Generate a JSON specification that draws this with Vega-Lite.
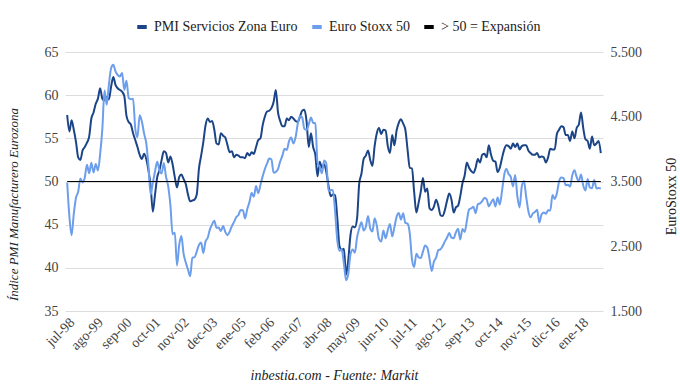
{
"$schema":"https://vega.github.io/schema/vega-lite/v6.json",
"width":538,"height":259,
"autosize":"none",
"padding":{"left":65,"top":52,"right":77,"bottom":75},
"background":"white",
"config":{"view":{"stroke":null},"font":"Liberation Serif"},
"data":{"values":[
{"mes":"jul-98","pmi":57.7,"sx":3480},{"mes":"ago-98","pmi":55.8,"sx":2960},{"mes":"sep-98","pmi":57.1,"sx":2670},{"mes":"oct-98","pmi":56.0,"sx":3000},{"mes":"nov-98","pmi":54.6,"sx":3250},{"mes":"dic-98","pmi":52.8,"sx":3342},
{"mes":"ene-99","pmi":52.5,"sx":3547},{"mes":"feb-99","pmi":53.6,"sx":3485},{"mes":"mar-99","pmi":54.0,"sx":3559},{"mes":"abr-99","pmi":54.5,"sx":3757},{"mes":"may-99","pmi":55.2,"sx":3629},{"mes":"jun-99","pmi":57.3,"sx":3788},{"mes":"jul-99","pmi":58.0,"sx":3638},{"mes":"ago-99","pmi":59.0,"sx":3769},{"mes":"sep-99","pmi":59.6,"sx":3669},{"mes":"oct-99","pmi":60.8,"sx":3922},{"mes":"nov-99","pmi":59.6,"sx":4312},{"mes":"dic-99","pmi":59.4,"sx":4904},
{"mes":"ene-00","pmi":59.8,"sx":4684},{"mes":"feb-00","pmi":59.5,"sx":5000},{"mes":"mar-00","pmi":61.0,"sx":5249},{"mes":"abr-00","pmi":62.1,"sx":5303},{"mes":"may-00","pmi":61.2,"sx":5200},{"mes":"jun-00","pmi":60.8,"sx":5145},{"mes":"jul-00","pmi":60.6,"sx":5122},{"mes":"ago-00","pmi":60.4,"sx":5175},{"mes":"sep-00","pmi":59.9,"sx":4915},{"mes":"oct-00","pmi":57.6,"sx":5057},{"mes":"nov-00","pmi":56.9,"sx":4790},{"mes":"dic-00","pmi":56.6,"sx":4772},
{"mes":"ene-01","pmi":55.6,"sx":4779},{"mes":"feb-01","pmi":54.8,"sx":4318},{"mes":"mar-01","pmi":54.0,"sx":4185},{"mes":"abr-01","pmi":53.1,"sx":4525},{"mes":"may-01","pmi":52.6,"sx":4426},{"mes":"jun-01","pmi":53.2,"sx":4243},{"mes":"jul-01","pmi":52.6,"sx":4091},{"mes":"ago-01","pmi":51.3,"sx":3744},{"mes":"sep-01","pmi":49.5,"sx":3297},{"mes":"oct-01","pmi":46.5,"sx":3479},{"mes":"nov-01","pmi":48.5,"sx":3658},{"mes":"dic-01","pmi":50.5,"sx":3806},
{"mes":"ene-02","pmi":51.3,"sx":3670},{"mes":"feb-02","pmi":52.5,"sx":3625},{"mes":"mar-02","pmi":53.5,"sx":3785},{"mes":"abr-02","pmi":53.3,"sx":3573},{"mes":"may-02","pmi":52.2,"sx":3426},{"mes":"jun-02","pmi":52.9,"sx":3133},{"mes":"jul-02","pmi":52.0,"sx":2686},{"mes":"ago-02","pmi":50.5,"sx":2710},{"mes":"sep-02","pmi":49.3,"sx":2204},{"mes":"oct-02","pmi":50.5,"sx":2518},{"mes":"nov-02","pmi":50.8,"sx":2657},{"mes":"dic-02","pmi":50.3,"sx":2386},
{"mes":"ene-03","pmi":49.7,"sx":2249},{"mes":"feb-03","pmi":48.5,"sx":2141},{"mes":"mar-03","pmi":47.7,"sx":2036},{"mes":"abr-03","pmi":47.8,"sx":2324},{"mes":"may-03","pmi":47.9,"sx":2331},{"mes":"jun-03","pmi":48.5,"sx":2419},{"mes":"jul-03","pmi":51.5,"sx":2519},{"mes":"ago-03","pmi":53.0,"sx":2556},{"mes":"sep-03","pmi":54.6,"sx":2395},{"mes":"oct-03","pmi":56.5,"sx":2575},{"mes":"nov-03","pmi":57.3,"sx":2631},{"mes":"dec-03","pmi":56.9,"sx":2761},
{"mes":"ene-04","pmi":57.0,"sx":2839},{"mes":"feb-04","pmi":56.0,"sx":2894},{"mes":"mar-04","pmi":54.4,"sx":2787},{"mes":"abr-04","pmi":54.3,"sx":2788},{"mes":"may-04","pmi":55.6,"sx":2736},{"mes":"jun-04","pmi":55.3,"sx":2811},{"mes":"jul-04","pmi":55.1,"sx":2720},{"mes":"ago-04","pmi":54.2,"sx":2671},{"mes":"sep-04","pmi":53.4,"sx":2726},{"mes":"oct-04","pmi":53.5,"sx":2811},{"mes":"nov-04","pmi":52.8,"sx":2876},{"mes":"dic-04","pmi":53.1,"sx":2951},
{"mes":"ene-05","pmi":53.0,"sx":2984},{"mes":"feb-05","pmi":52.8,"sx":3058},{"mes":"mar-05","pmi":52.8,"sx":3056},{"mes":"abr-05","pmi":52.7,"sx":2930},{"mes":"may-05","pmi":53.3,"sx":3076},{"mes":"jun-05","pmi":53.0,"sx":3182},{"mes":"jul-05","pmi":53.4,"sx":3326},{"mes":"ago-05","pmi":53.2,"sx":3263},{"mes":"sep-05","pmi":54.0,"sx":3429},{"mes":"oct-05","pmi":54.8,"sx":3320},{"mes":"nov-05","pmi":55.0,"sx":3447},{"mes":"dic-05","pmi":56.5,"sx":3579},
{"mes":"ene-06","pmi":57.5,"sx":3692},{"mes":"feb-06","pmi":58.1,"sx":3775},{"mes":"mar-06","pmi":58.2,"sx":3854},{"mes":"abr-06","pmi":58.5,"sx":3839},{"mes":"may-06","pmi":59.2,"sx":3637},{"mes":"jun-06","pmi":60.6,"sx":3649},{"mes":"jul-06","pmi":58.0,"sx":3692},{"mes":"ago-06","pmi":57.0,"sx":3809},{"mes":"sep-06","pmi":56.4,"sx":3899},{"mes":"oct-06","pmi":56.4,"sx":4004},{"mes":"nov-06","pmi":57.3,"sx":3987},{"mes":"dic-06","pmi":57.1,"sx":4120},
{"mes":"ene-07","pmi":57.5,"sx":4179},{"mes":"feb-07","pmi":57.3,"sx":4088},{"mes":"mar-07","pmi":57.0,"sx":4182},{"mes":"abr-07","pmi":56.9,"sx":4392},{"mes":"may-07","pmi":57.5,"sx":4512},{"mes":"jun-07","pmi":58.2,"sx":4489},{"mes":"jul-07","pmi":58.3,"sx":4316},{"mes":"ago-07","pmi":57.0,"sx":4294},{"mes":"sep-07","pmi":54.0,"sx":4382},{"mes":"oct-07","pmi":55.6,"sx":4489},{"mes":"nov-07","pmi":54.0,"sx":4407},{"mes":"dic-07","pmi":53.1,"sx":4400},
{"mes":"ene-08","pmi":50.6,"sx":3792},{"mes":"feb-08","pmi":52.3,"sx":3724},{"mes":"mar-08","pmi":51.6,"sx":3628},{"mes":"abr-08","pmi":52.0,"sx":3826},{"mes":"may-08","pmi":51.1,"sx":3778},{"mes":"jun-08","pmi":49.5,"sx":3353},{"mes":"jul-08","pmi":48.3,"sx":3367},{"mes":"ago-08","pmi":48.5,"sx":3365},{"mes":"sep-08","pmi":48.4,"sx":3038},{"mes":"oct-08","pmi":45.8,"sx":2592},{"mes":"nov-08","pmi":42.5,"sx":2430},{"mes":"dic-08","pmi":42.1,"sx":2448},
{"mes":"ene-09","pmi":42.2,"sx":2237},{"mes":"feb-09","pmi":39.2,"sx":1976},{"mes":"mar-09","pmi":40.9,"sx":2071},{"mes":"abr-09","pmi":43.8,"sx":2375},{"mes":"may-09","pmi":44.8,"sx":2451},{"mes":"jun-09","pmi":44.7,"sx":2401},{"mes":"jul-09","pmi":45.7,"sx":2638},{"mes":"ago-09","pmi":49.8,"sx":2775},{"mes":"sep-09","pmi":50.9,"sx":2872},{"mes":"oct-09","pmi":52.6,"sx":2743},{"mes":"nov-09","pmi":53.0,"sx":2800},{"mes":"dic-09","pmi":53.6,"sx":2966},
{"mes":"ene-10","pmi":52.5,"sx":2776},{"mes":"feb-10","pmi":51.8,"sx":2728},{"mes":"mar-10","pmi":54.1,"sx":2931},{"mes":"abr-10","pmi":55.6,"sx":2817},{"mes":"may-10","pmi":56.2,"sx":2610},{"mes":"jun-10","pmi":55.5,"sx":2574},{"mes":"jul-10","pmi":56.0,"sx":2742},{"mes":"ago-10","pmi":55.9,"sx":2623},{"mes":"sep-10","pmi":54.1,"sx":2748},{"mes":"oct-10","pmi":53.3,"sx":2845},{"mes":"nov-10","pmi":55.4,"sx":2651},{"mes":"dic-10","pmi":54.2,"sx":2793},
{"mes":"ene-11","pmi":55.9,"sx":2954},{"mes":"feb-11","pmi":56.8,"sx":3013},{"mes":"mar-11","pmi":57.2,"sx":2911},{"mes":"abr-11","pmi":56.7,"sx":3011},{"mes":"may-11","pmi":56.0,"sx":2861},{"mes":"jun-11","pmi":53.7,"sx":2849},{"mes":"jul-11","pmi":51.6,"sx":2700},{"mes":"ago-11","pmi":51.5,"sx":2303},{"mes":"sep-11","pmi":48.8,"sx":2179},{"mes":"oct-11","pmi":46.4,"sx":2385},{"mes":"nov-11","pmi":47.5,"sx":2330},{"mes":"dic-11","pmi":48.8,"sx":2317},
{"mes":"ene-12","pmi":50.4,"sx":2416},{"mes":"feb-12","pmi":48.8,"sx":2512},{"mes":"mar-12","pmi":49.2,"sx":2477},{"mes":"abr-12","pmi":46.9,"sx":2306},{"mes":"may-12","pmi":46.7,"sx":2118},{"mes":"jun-12","pmi":47.1,"sx":2265},{"mes":"jul-12","pmi":47.9,"sx":2325},{"mes":"ago-12","pmi":47.2,"sx":2440},{"mes":"sep-12","pmi":46.1,"sx":2454},{"mes":"oct-12","pmi":46.0,"sx":2503},{"mes":"nov-12","pmi":46.7,"sx":2575},{"mes":"dic-12","pmi":47.8,"sx":2636},
{"mes":"ene-13","pmi":48.6,"sx":2703},{"mes":"feb-13","pmi":47.9,"sx":2633},{"mes":"mar-13","pmi":46.4,"sx":2624},{"mes":"abr-13","pmi":47.0,"sx":2712},{"mes":"may-13","pmi":47.2,"sx":2770},{"mes":"jun-13","pmi":48.3,"sx":2603},{"mes":"jul-13","pmi":49.8,"sx":2768},{"mes":"ago-13","pmi":50.7,"sx":2721},{"mes":"sep-13","pmi":52.2,"sx":2893},{"mes":"oct-13","pmi":51.6,"sx":3068},{"mes":"nov-13","pmi":51.2,"sx":3086},{"mes":"dic-13","pmi":51.0,"sx":3109},
{"mes":"ene-14","pmi":51.6,"sx":3013},{"mes":"feb-14","pmi":52.6,"sx":3149},{"mes":"mar-14","pmi":52.2,"sx":3162},{"mes":"abr-14","pmi":53.1,"sx":3198},{"mes":"may-14","pmi":53.2,"sx":3245},{"mes":"jun-14","pmi":52.8,"sx":3228},{"mes":"jul-14","pmi":54.2,"sx":3116},{"mes":"ago-14","pmi":53.1,"sx":3173},{"mes":"sep-14","pmi":52.4,"sx":3226},{"mes":"oct-14","pmi":52.3,"sx":3113},{"mes":"nov-14","pmi":51.1,"sx":3251},{"mes":"dic-14","pmi":51.6,"sx":3146},
{"mes":"ene-15","pmi":52.7,"sx":3351},{"mes":"feb-15","pmi":53.7,"sx":3599},{"mes":"mar-15","pmi":54.2,"sx":3697},{"mes":"abr-15","pmi":54.1,"sx":3616},{"mes":"may-15","pmi":53.8,"sx":3570},{"mes":"jun-15","pmi":54.4,"sx":3424},{"mes":"jul-15","pmi":54.0,"sx":3601},{"mes":"ago-15","pmi":54.4,"sx":3270},{"mes":"sep-15","pmi":53.7,"sx":3100},{"mes":"oct-15","pmi":54.1,"sx":3418},{"mes":"nov-15","pmi":54.2,"sx":3506},{"mes":"dic-15","pmi":54.2,"sx":3268},
{"mes":"ene-16","pmi":53.6,"sx":3045},{"mes":"feb-16","pmi":53.3,"sx":2946},{"mes":"mar-16","pmi":53.1,"sx":3005},{"mes":"abr-16","pmi":53.1,"sx":3028},{"mes":"may-16","pmi":53.3,"sx":3063},{"mes":"jun-16","pmi":52.8,"sx":2865},{"mes":"jul-16","pmi":52.9,"sx":2991},{"mes":"ago-16","pmi":52.8,"sx":3023},{"mes":"sep-16","pmi":52.2,"sx":3002},{"mes":"oct-16","pmi":52.8,"sx":3055},{"mes":"nov-16","pmi":53.8,"sx":3052},{"mes":"dic-16","pmi":53.7,"sx":3291},
{"mes":"ene-17","pmi":53.7,"sx":3231},{"mes":"feb-17","pmi":55.5,"sx":3320},{"mes":"mar-17","pmi":56.0,"sx":3501},{"mes":"abr-17","pmi":56.4,"sx":3560},{"mes":"may-17","pmi":56.3,"sx":3555},{"mes":"jun-17","pmi":55.4,"sx":3442},{"mes":"jul-17","pmi":55.4,"sx":3450},{"mes":"ago-17","pmi":54.7,"sx":3421},{"mes":"sep-17","pmi":55.8,"sx":3595},{"mes":"oct-17","pmi":55.0,"sx":3674},{"mes":"nov-17","pmi":56.2,"sx":3570},{"mes":"dic-17","pmi":56.6,"sx":3504},
{"mes":"ene-18","pmi":58.0,"sx":3609},{"mes":"feb-18","pmi":56.2,"sx":3439},{"mes":"mar-18","pmi":54.9,"sx":3362},{"mes":"abr-18","pmi":54.7,"sx":3537},{"mes":"may-18","pmi":53.8,"sx":3407},{"mes":"jun-18","pmi":55.2,"sx":3396},{"mes":"jul-18","pmi":54.2,"sx":3525},{"mes":"ago-18","pmi":54.4,"sx":3393},{"mes":"sep-18","pmi":54.7,"sx":3399},{"mes":"oct-18","pmi":53.3,"sx":3390}
]},
"encoding":{
  "x":{"field":"mes","type":"ordinal","sort":null,
    "scale":{"type":"point","padding":1.15},
    "axis":{"values":["jul-98","ago-99","sep-00","oct-01","nov-02","dec-03","ene-05","feb-06","mar-07","abr-08","may-09","jun-10","jul-11","ago-12","sep-13","oct-14","nov-15","dic-16","ene-18"],
      "labelAngle":315,"labelAlign":"right","labelBaseline":"top","labelPadding":4,
      "labelFontSize":14,"labelColor":"#444444","domain":false,"ticks":false,"grid":false,
      "title":"inbestia.com - Fuente: Markit","titleFontStyle":"italic","titleFontWeight":"normal","titleFontSize":14,"titleColor":"#222222",
      "titleX":269,"titleY":64,"titleBaseline":"middle","titleAlign":"center"}}
},
"layer":[
  {"mark":{"type":"line","strokeWidth":2,"interpolate":"monotone"},
   "encoding":{
     "y":{"field":"pmi","type":"quantitative","scale":{"domain":[35,65],"zero":false},
       "axis":{"orient":"left","values":[35,40,45,50,55,60,65],"domain":false,"ticks":false,"grid":true,"gridColor":"#dddddd",
         "labelFontSize":14,"labelColor":"#444444","labelPadding":7,
         "title":"Índice PMI Manufacturero Eurozona","titleFontStyle":"italic","titleFontWeight":"normal","titleFontSize":13,"titleColor":"#222222",
         "titleX":-52,"titleY":152,"titleAngle":270,"titleBaseline":"middle","titleAlign":"center"}},
     "color":{"datum":"PMI Servicios Zona Euro","type":"nominal",
       "scale":{"domain":["PMI Servicios Zona Euro","Euro Stoxx 50","> 50 = Expansión"],"range":["#1c4587","#6d9eeb","#000000"]},
       "legend":{"title":null,"orient":"none","direction":"horizontal","legendX":70,"legendY":-32,
         "labelFontSize":14,"labelColor":"#222222","labelOffset":5,"columnPadding":6,
         "symbolType":"stroke","symbolStrokeWidth":4,"symbolSize":90}}}},
  {"mark":{"type":"line","strokeWidth":2,"interpolate":"monotone"},
   "encoding":{
     "y":{"field":"sx","type":"quantitative","scale":{"domain":[1500,5500],"zero":false},
       "axis":{"orient":"right","values":[1500,2500,3500,4500,5500],"domain":false,"ticks":false,"grid":false,
         "labelExpr":"replace(format(datum.value, ',d'), ',', '.')",
         "labelFontSize":14,"labelColor":"#444444","labelPadding":7,
         "title":"EuroStoxx 50","titleFontWeight":"normal","titleFontSize":14,"titleColor":"#222222",
         "titleX":68,"titleY":144,"titleAngle":270,"titleBaseline":"middle","titleAlign":"center"}},
     "color":{"datum":"Euro Stoxx 50","type":"nominal"}}},
  {"mark":{"type":"line","strokeWidth":1.1},
   "encoding":{
     "y":{"datum":50,"type":"quantitative","scale":{"domain":[35,65],"zero":false},"axis":null},
     "color":{"datum":"> 50 = Expansión","type":"nominal"}}}
],
"resolve":{"scale":{"y":"independent"}}
}
